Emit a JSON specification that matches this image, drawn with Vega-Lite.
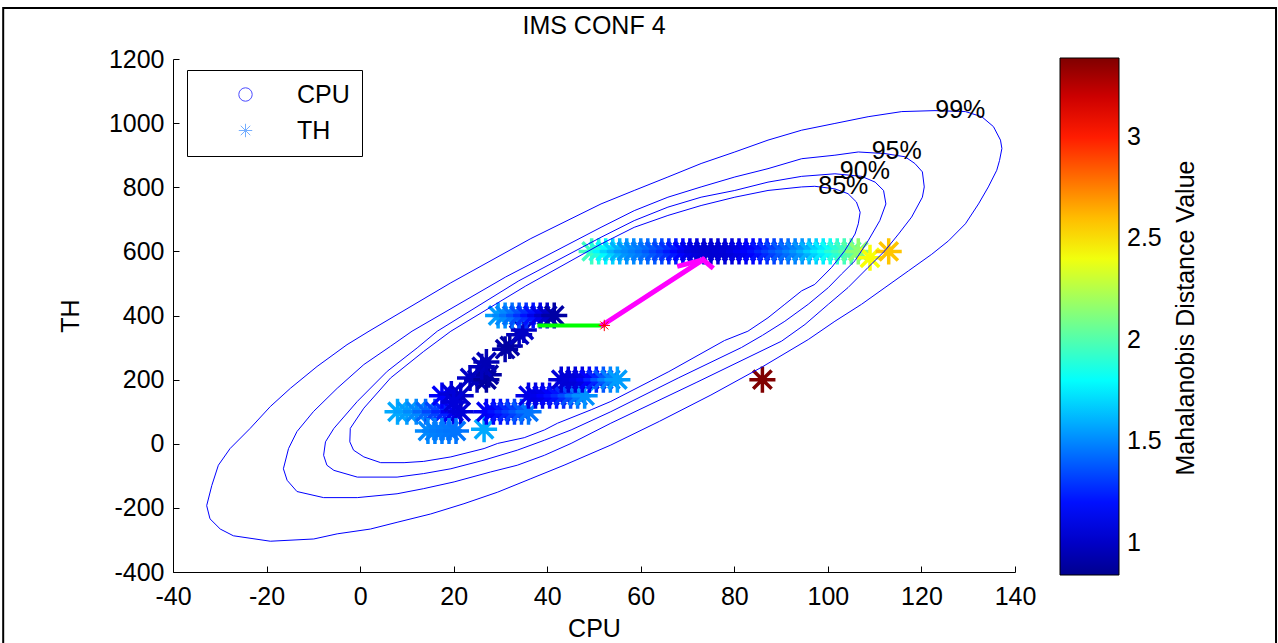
{
"$schema": "https://vega.github.io/schema/vega-lite/v6.json",
"width": 842, "height": 513,
"autosize": {"type": "none"},
"padding": {"left": 173, "top": 59, "right": 263, "bottom": 71},
"background": "white",
"title": {"text": "IMS CONF 4", "fontSize": 25, "font": "Liberation Sans", "fontWeight": "normal", "color": "black", "anchor": "middle", "frame": "group", "offset": -32},
"config": {
  "view": {"stroke": null},
  "axis": {"domainColor": "black", "domainWidth": 1, "tickColor": "black", "tickWidth": 1, "tickSize": -6, "grid": false,
    "labelFont": "Liberation Sans", "labelFontSize": 25, "labelColor": "black", "labelOverlap": false, "labelFlush": false,
    "titleFont": "Liberation Sans", "titleFontSize": 25, "titleFontWeight": "normal", "titleColor": "black"}
},
"datasets": {
  "stars": [
    {"cpu":8,"th":100,"md":1.58},{"cpu":10,"th":100,"md":1.55},{"cpu":12,"th":100,"md":1.5},{"cpu":14,"th":100,"md":1.42},
    {"cpu":16,"th":100,"md":1.33},{"cpu":18,"th":100,"md":1.25},{"cpu":20,"th":100,"md":1.12},{"cpu":21.5,"th":100,"md":1.05},
    {"cpu":14.5,"th":40,"md":1.5},{"cpu":16,"th":40,"md":1.48},{"cpu":17.5,"th":40,"md":1.47},{"cpu":19,"th":40,"md":1.46},{"cpu":20.5,"th":40,"md":1.45},
    {"cpu":26.5,"th":45,"md":1.58},
    {"cpu":17.5,"th":150,"md":1.15},{"cpu":19.5,"th":155,"md":1.05},{"cpu":21.5,"th":150,"md":1.0},{"cpu":20,"th":130,"md":1.05},
    {"cpu":23.5,"th":205,"md":1.0},{"cpu":25,"th":200,"md":0.97},{"cpu":27,"th":200,"md":0.88},{"cpu":27.5,"th":215,"md":0.9},
    {"cpu":26,"th":240,"md":0.97},{"cpu":27,"th":255,"md":0.95},{"cpu":31,"th":295,"md":0.92},{"cpu":32,"th":305,"md":0.9},
    {"cpu":34,"th":340,"md":0.97},{"cpu":35,"th":355,"md":1.0},
    {"cpu":29.5,"th":400,"md":1.55},{"cpu":31,"th":400,"md":1.5},{"cpu":32.5,"th":400,"md":1.44},{"cpu":34,"th":400,"md":1.36},
    {"cpu":35.5,"th":400,"md":1.28},{"cpu":37,"th":400,"md":1.2},{"cpu":38.5,"th":400,"md":1.1},{"cpu":40,"th":400,"md":1.0},{"cpu":41.5,"th":400,"md":0.9},
    {"cpu":27,"th":100,"md":1.12},{"cpu":28.5,"th":100,"md":1.15},{"cpu":30,"th":100,"md":1.2},{"cpu":31.5,"th":100,"md":1.26},
    {"cpu":33,"th":100,"md":1.32},{"cpu":34.5,"th":100,"md":1.38},{"cpu":36,"th":100,"md":1.45},
    {"cpu":36,"th":150,"md":1.1},{"cpu":37.5,"th":150,"md":1.08},{"cpu":39,"th":150,"md":1.1},{"cpu":40.5,"th":150,"md":1.15},
    {"cpu":42,"th":150,"md":1.2},{"cpu":43.5,"th":150,"md":1.27},{"cpu":45,"th":150,"md":1.35},{"cpu":46.5,"th":150,"md":1.45},{"cpu":48,"th":150,"md":1.52},
    {"cpu":43,"th":200,"md":1.05},{"cpu":44.5,"th":200,"md":1.04},{"cpu":46,"th":200,"md":1.05},{"cpu":47.5,"th":200,"md":1.08},
    {"cpu":49,"th":200,"md":1.15},{"cpu":50.5,"th":200,"md":1.25},{"cpu":52,"th":200,"md":1.38},{"cpu":53.5,"th":200,"md":1.48},{"cpu":55,"th":200,"md":1.55},
    {"cpu":49.5,"th":600,"md":1.95},{"cpu":51,"th":600,"md":1.88},{"cpu":52.5,"th":600,"md":1.78},{"cpu":54,"th":600,"md":1.68},
    {"cpu":55.5,"th":600,"md":1.6},{"cpu":57,"th":600,"md":1.53},{"cpu":58.5,"th":600,"md":1.5},{"cpu":60,"th":600,"md":1.47},
    {"cpu":61.5,"th":600,"md":1.43},{"cpu":63,"th":600,"md":1.38},{"cpu":64.5,"th":600,"md":1.33},{"cpu":66,"th":600,"md":1.28},
    {"cpu":67.5,"th":600,"md":1.22},{"cpu":69,"th":600,"md":1.16},{"cpu":70.5,"th":600,"md":1.1},{"cpu":72,"th":600,"md":1.06},
    {"cpu":73.5,"th":600,"md":1.04},{"cpu":75,"th":600,"md":1.03},{"cpu":76.5,"th":600,"md":1.03},{"cpu":78,"th":600,"md":1.04},
    {"cpu":79.5,"th":600,"md":1.05},{"cpu":81,"th":600,"md":1.08},{"cpu":82.5,"th":600,"md":1.12},{"cpu":84,"th":600,"md":1.16},
    {"cpu":85.5,"th":600,"md":1.2},{"cpu":87,"th":600,"md":1.26},{"cpu":88.5,"th":600,"md":1.32},{"cpu":90,"th":600,"md":1.38},
    {"cpu":91.5,"th":600,"md":1.43},{"cpu":93,"th":600,"md":1.48},{"cpu":94.5,"th":600,"md":1.53},{"cpu":96,"th":600,"md":1.6},
    {"cpu":97.5,"th":600,"md":1.68},{"cpu":99,"th":600,"md":1.75},{"cpu":100.5,"th":600,"md":1.82},{"cpu":102,"th":600,"md":1.9},
    {"cpu":103.5,"th":600,"md":1.96},{"cpu":105,"th":600,"md":2.02},{"cpu":106.5,"th":600,"md":2.15},
    {"cpu":109,"th":580,"md":2.42},{"cpu":113,"th":600,"md":2.58},
    {"cpu":86,"th":200,"md":3.39}
  ],
  "contours": [
    {"l":"99","i":1,"cpu":122.9,"th":1039},{"l":"99","i":2,"cpu":115.8,"th":1036},{"l":"99","i":3,"cpu":108.6,"th":1020},{"l":"99","i":4,"cpu":101.5,"th":999},
    {"l":"99","i":5,"cpu":94.4,"th":978},{"l":"99","i":6,"cpu":87.2,"th":947},{"l":"99","i":7,"cpu":80.1,"th":910},{"l":"99","i":8,"cpu":72.9,"th":874},
    {"l":"99","i":9,"cpu":65.8,"th":832},{"l":"99","i":10,"cpu":58.6,"th":790},{"l":"99","i":11,"cpu":51.5,"th":748},{"l":"99","i":12,"cpu":36.5,"th":640},
    {"l":"99","i":13,"cpu":19.4,"th":502},{"l":"99","i":14,"cpu":1.9,"th":351},{"l":"99","i":15,"cpu":-2.8,"th":309},{"l":"99","i":16,"cpu":-9.2,"th":241},
    {"l":"99","i":17,"cpu":-14.9,"th":173},{"l":"99","i":18,"cpu":-19.2,"th":116},{"l":"99","i":19,"cpu":-23.5,"th":48},{"l":"99","i":20,"cpu":-27.8,"th":-15},
    {"l":"99","i":21,"cpu":-30.3,"th":-67},{"l":"99","i":22,"cpu":-31.7,"th":-130},{"l":"99","i":23,"cpu":-32.8,"th":-193},{"l":"99","i":24,"cpu":-32.1,"th":-234},
    {"l":"99","i":25,"cpu":-29.9,"th":-266},{"l":"99","i":26,"cpu":-27.1,"th":-287},{"l":"99","i":27,"cpu":-19.2,"th":-304},{"l":"99","i":28,"cpu":-9.9,"th":-297},
    {"l":"99","i":29,"cpu":-4.9,"th":-281},{"l":"99","i":30,"cpu":2.2,"th":-266},{"l":"99","i":31,"cpu":7.9,"th":-245},{"l":"99","i":32,"cpu":15.1,"th":-219},
    {"l":"99","i":33,"cpu":22.2,"th":-187},{"l":"99","i":34,"cpu":29.4,"th":-151},{"l":"99","i":35,"cpu":36.5,"th":-109},{"l":"99","i":36,"cpu":43.6,"th":-67},
    {"l":"99","i":37,"cpu":53.6,"th":-4},{"l":"99","i":38,"cpu":64,"th":70},{"l":"99","i":39,"cpu":75,"th":152},{"l":"99","i":40,"cpu":86,"th":240},
    {"l":"99","i":41,"cpu":95.8,"th":325},{"l":"99","i":42,"cpu":101.5,"th":382},{"l":"99","i":43,"cpu":107.2,"th":435},{"l":"99","i":44,"cpu":112.2,"th":487},
    {"l":"99","i":45,"cpu":117.2,"th":539},{"l":"99","i":46,"cpu":122.2,"th":591},{"l":"99","i":47,"cpu":125.8,"th":633},{"l":"99","i":48,"cpu":129.4,"th":686},
    {"l":"99","i":49,"cpu":132.2,"th":748},{"l":"99","i":50,"cpu":134.3,"th":801},{"l":"99","i":51,"cpu":136.1,"th":853},{"l":"99","i":52,"cpu":136.7,"th":884},
    {"l":"99","i":53,"cpu":137.2,"th":921},{"l":"99","i":54,"cpu":136.9,"th":947},{"l":"99","i":55,"cpu":135.4,"th":989},{"l":"99","i":56,"cpu":132.9,"th":1020},
    {"l":"99","i":57,"cpu":129.4,"th":1036},{"l":"99","i":58,"cpu":122.9,"th":1039},
    {"l":"95","i":1,"cpu":112.2,"th":905},{"l":"95","i":2,"cpu":106.5,"th":910},{"l":"95","i":3,"cpu":101.5,"th":900},{"l":"95","i":4,"cpu":94.4,"th":889},
    {"l":"95","i":5,"cpu":87.2,"th":858},{"l":"95","i":6,"cpu":80.1,"th":832},{"l":"95","i":7,"cpu":72.9,"th":801},{"l":"95","i":8,"cpu":65.8,"th":769},
    {"l":"95","i":9,"cpu":58.6,"th":727},{"l":"95","i":10,"cpu":51.5,"th":675},{"l":"95","i":11,"cpu":31.1,"th":520},{"l":"95","i":12,"cpu":11.1,"th":351},
    {"l":"95","i":13,"cpu":6.5,"th":304},{"l":"95","i":14,"cpu":0.8,"th":247},{"l":"95","i":15,"cpu":-4.9,"th":173},{"l":"95","i":16,"cpu":-10.0,"th":100},
    {"l":"95","i":17,"cpu":-13.5,"th":38},{"l":"95","i":18,"cpu":-15.3,"th":-15},{"l":"95","i":19,"cpu":-16.4,"th":-78},{"l":"95","i":20,"cpu":-15.6,"th":-114},
    {"l":"95","i":21,"cpu":-13.5,"th":-149},{"l":"95","i":22,"cpu":-7.8,"th":-168},{"l":"95","i":23,"cpu":-0.6,"th":-168},{"l":"95","i":24,"cpu":7.9,"th":-156},
    {"l":"95","i":25,"cpu":13.6,"th":-140},{"l":"95","i":26,"cpu":20.1,"th":-119},{"l":"95","i":27,"cpu":27.9,"th":-88},{"l":"95","i":28,"cpu":33.6,"th":-67},
    {"l":"95","i":29,"cpu":39.4,"th":-36},{"l":"95","i":30,"cpu":45.1,"th":1},{"l":"95","i":31,"cpu":53.6,"th":64},{"l":"95","i":32,"cpu":72,"th":192},
    {"l":"95","i":33,"cpu":90.1,"th":320},{"l":"95","i":34,"cpu":95.1,"th":372},{"l":"95","i":35,"cpu":100.1,"th":435},{"l":"95","i":36,"cpu":104.3,"th":487},
    {"l":"95","i":37,"cpu":108.6,"th":550},{"l":"95","i":38,"cpu":112.2,"th":602},{"l":"95","i":39,"cpu":115.1,"th":654},{"l":"95","i":40,"cpu":117.9,"th":707},
    {"l":"95","i":41,"cpu":120.2,"th":769},{"l":"95","i":42,"cpu":120.6,"th":801},{"l":"95","i":43,"cpu":120.2,"th":848},{"l":"95","i":44,"cpu":118.6,"th":874},
    {"l":"95","i":45,"cpu":116.5,"th":895},{"l":"95","i":46,"cpu":112.2,"th":905},
    {"l":"90","i":1,"cpu":107.2,"th":834},{"l":"90","i":2,"cpu":101.5,"th":842},{"l":"90","i":3,"cpu":94.4,"th":834},{"l":"90","i":4,"cpu":87.2,"th":816},
    {"l":"90","i":5,"cpu":80.1,"th":790},{"l":"90","i":6,"cpu":72.9,"th":769},{"l":"90","i":7,"cpu":65.8,"th":738},{"l":"90","i":8,"cpu":58.6,"th":696},
    {"l":"90","i":9,"cpu":51.5,"th":644},{"l":"90","i":10,"cpu":33.9,"th":508},{"l":"90","i":11,"cpu":16.5,"th":351},{"l":"90","i":12,"cpu":12.2,"th":299},
    {"l":"90","i":13,"cpu":5.8,"th":226},{"l":"90","i":14,"cpu":-0.6,"th":132},{"l":"90","i":15,"cpu":-5.6,"th":48},{"l":"90","i":16,"cpu":-7.4,"th":6},
    {"l":"90","i":17,"cpu":-7.8,"th":-36},{"l":"90","i":18,"cpu":-7.1,"th":-67},{"l":"90","i":19,"cpu":-5.6,"th":-83},{"l":"90","i":20,"cpu":-0.6,"th":-104},
    {"l":"90","i":21,"cpu":7.9,"th":-104},{"l":"90","i":22,"cpu":13.6,"th":-93},{"l":"90","i":23,"cpu":19.4,"th":-78},{"l":"90","i":24,"cpu":26.5,"th":-51},
    {"l":"90","i":25,"cpu":33.6,"th":-20},{"l":"90","i":26,"cpu":39.4,"th":11},{"l":"90","i":27,"cpu":45.1,"th":43},{"l":"90","i":28,"cpu":53.6,"th":100},
    {"l":"90","i":29,"cpu":68,"th":205},{"l":"90","i":30,"cpu":81.5,"th":300},{"l":"90","i":31,"cpu":86,"th":338},{"l":"90","i":32,"cpu":90.8,"th":382},
    {"l":"90","i":33,"cpu":95.8,"th":435},{"l":"90","i":34,"cpu":100.1,"th":487},{"l":"90","i":35,"cpu":102.9,"th":529},{"l":"90","i":36,"cpu":105.8,"th":571},
    {"l":"90","i":37,"cpu":108.6,"th":633},{"l":"90","i":38,"cpu":111.1,"th":696},{"l":"90","i":39,"cpu":112.4,"th":748},{"l":"90","i":40,"cpu":111.9,"th":790},
    {"l":"90","i":41,"cpu":110.1,"th":816},{"l":"90","i":42,"cpu":107.2,"th":834},
    {"l":"85","i":1,"cpu":97.2,"th":803},{"l":"85","i":2,"cpu":94.4,"th":801},{"l":"85","i":3,"cpu":87.2,"th":790},{"l":"85","i":4,"cpu":80.1,"th":769},
    {"l":"85","i":5,"cpu":72.9,"th":743},{"l":"85","i":6,"cpu":65.8,"th":712},{"l":"85","i":7,"cpu":58.6,"th":675},{"l":"85","i":8,"cpu":51.5,"th":623},
    {"l":"85","i":9,"cpu":35.4,"th":492},{"l":"85","i":10,"cpu":19.4,"th":351},{"l":"85","i":11,"cpu":13.6,"th":288},{"l":"85","i":12,"cpu":6.5,"th":205},
    {"l":"85","i":13,"cpu":0.8,"th":111},{"l":"85","i":14,"cpu":-2.1,"th":48},{"l":"85","i":15,"cpu":-2.2,"th":6},{"l":"85","i":16,"cpu":-1.4,"th":-20},
    {"l":"85","i":17,"cpu":0.8,"th":-41},{"l":"85","i":18,"cpu":4.4,"th":-59},{"l":"85","i":19,"cpu":9.4,"th":-59},{"l":"85","i":20,"cpu":13.6,"th":-55},
    {"l":"85","i":21,"cpu":19.4,"th":-41},{"l":"85","i":22,"cpu":26.5,"th":-15},{"l":"85","i":23,"cpu":29.4,"th":1},{"l":"85","i":24,"cpu":35.1,"th":19},
    {"l":"85","i":25,"cpu":39.4,"th":43},{"l":"85","i":26,"cpu":42.2,"th":64},{"l":"85","i":27,"cpu":49.4,"th":106},{"l":"85","i":28,"cpu":53.6,"th":132},
    {"l":"85","i":29,"cpu":66,"th":225},{"l":"85","i":30,"cpu":77.9,"th":322},{"l":"85","i":31,"cpu":82.9,"th":351},{"l":"85","i":32,"cpu":87.2,"th":393},
    {"l":"85","i":33,"cpu":90.8,"th":435},{"l":"85","i":34,"cpu":94.4,"th":477},{"l":"85","i":35,"cpu":97.2,"th":497},{"l":"85","i":36,"cpu":100.8,"th":550},
    {"l":"85","i":37,"cpu":103.6,"th":602},{"l":"85","i":38,"cpu":105.8,"th":654},{"l":"85","i":39,"cpu":106.5,"th":686},{"l":"85","i":40,"cpu":106.9,"th":722},
    {"l":"85","i":41,"cpu":106.1,"th":754},{"l":"85","i":42,"cpu":104.3,"th":780},{"l":"85","i":43,"cpu":101.5,"th":795},{"l":"85","i":44,"cpu":97.2,"th":803}
  ],
  "labels": [
    {"cpu":128.3,"th":1040,"lab":"99%"},{"cpu":114.7,"th":913,"lab":"95%"},{"cpu":107.9,"th":850,"lab":"90%"},{"cpu":103.3,"th":805,"lab":"85%"}
  ],
  "green": [{"cpu":37.9,"th":369,"cpu2":52.2,"th2":369}],
  "arrow": [
    {"cpu":51.9,"th":371,"cpu2":73.3,"th2":574},
    {"cpu":68.3,"th":555,"cpu2":73.3,"th2":574},
    {"cpu":75.1,"th":552,"cpu2":73.3,"th2":574}
  ],
  "origin": [{"cpu":52.2,"th":369}],
  "series": [{"series":"CPU"},{"series":"TH"}]
},
"layer": [
  {"data": {"values": [{}]},
   "mark": {"type": "rect", "filled": false, "stroke": "black", "strokeWidth": 2, "clip": false},
   "encoding": {
     "x": {"datum": -76.3, "type": "quantitative", "scale": {"domain": [-40, 140], "nice": false, "zero": false}},
     "x2": {"datum": 195.8},
     "y": {"datum": 1359, "type": "quantitative", "scale": {"domain": [-400, 1200], "nice": false, "zero": false}},
     "y2": {"datum": -700}}},
  {"data": {"name": "stars"},
   "mark": {"type": "point", "shape": "M0,-1L0,1M-1,0L1,0M-0.707,-0.707L0.707,0.707M-0.707,0.707L0.707,-0.707", "filled": false, "size": 680, "strokeWidth": 3.5, "opacity": 1},
   "encoding": {
     "x": {"field": "cpu", "type": "quantitative",
       "scale": {"domain": [-40, 140], "nice": false, "zero": false},
       "axis": {"title": "CPU", "values": [-40,-20,0,20,40,60,80,100,120,140], "labelExpr": "'' + datum.value", "labelPadding": 18, "titlePadding": 7}},
     "y": {"field": "th", "type": "quantitative",
       "scale": {"domain": [-400, 1200], "nice": false, "zero": false},
       "axis": {"title": "TH", "values": [-400,-200,0,200,400,600,800,1000,1200], "labelExpr": "'' + datum.value", "labelPadding": 15, "titlePadding": 25}},
     "color": {"field": "md", "type": "quantitative",
       "scale": {"domain": [0.84, 1.159, 1.796, 2.434, 3.071, 3.39], "range": ["#00008f", "#0000ff", "#00ffff", "#ffff00", "#ff0000", "#800000"], "interpolate": "rgb"},
       "legend": {"orient": "none", "legendX": 887, "legendY": -1, "direction": "vertical", "padding": 0, "title": null,
         "gradientLength": 517, "gradientThickness": 59, "gradientStrokeColor": "black", "gradientStrokeWidth": 1,
         "values": [1, 1.5, 2, 2.5, 3], "labelExpr": "'' + datum.value", "labelFont": "Liberation Sans", "labelFontSize": 25, "labelColor": "black", "labelOffset": 8, "labelOverlap": false}}
   }},
  {"data": {"name": "contours"},
   "mark": {"type": "line", "color": "#0000ff", "strokeWidth": 1},
   "encoding": {
     "x": {"field": "cpu", "type": "quantitative"},
     "y": {"field": "th", "type": "quantitative"},
     "detail": {"field": "l", "type": "nominal"}, "order": {"field": "i", "type": "quantitative"}}},
  {"data": {"name": "labels"},
   "mark": {"type": "text", "font": "Liberation Sans", "fontSize": 25, "color": "black", "align": "center", "baseline": "middle"},
   "encoding": {
     "x": {"field": "cpu", "type": "quantitative"},
     "y": {"field": "th", "type": "quantitative"},
     "text": {"field": "lab", "type": "nominal"}}},
  {"data": {"name": "green"},
   "mark": {"type": "rule", "color": "#00ff00", "strokeWidth": 4},
   "encoding": {
     "x": {"field": "cpu", "type": "quantitative"},
     "y": {"field": "th", "type": "quantitative"},
     "x2": {"field": "cpu2"}, "y2": {"field": "th2"}}},
  {"data": {"name": "arrow"},
   "mark": {"type": "rule", "color": "#ff00ff", "strokeWidth": 5, "strokeCap": "square"},
   "encoding": {
     "x": {"field": "cpu", "type": "quantitative"},
     "y": {"field": "th", "type": "quantitative"},
     "x2": {"field": "cpu2"}, "y2": {"field": "th2"}}},
  {"data": {"name": "origin"},
   "mark": {"type": "point", "shape": "M0,-1L0,1M-1,0L1,0M-0.707,-0.707L0.707,0.707M-0.707,0.707L0.707,-0.707", "filled": false, "size": 130, "strokeWidth": 1, "color": "#ff0000", "opacity": 1},
   "encoding": {
     "x": {"field": "cpu", "type": "quantitative"},
     "y": {"field": "th", "type": "quantitative"}}},
  {"data": {"values": [{}]},
   "mark": {"type": "text", "text": "Mahalanobis Distance Value", "angle": 270, "font": "Liberation Sans", "fontSize": 25, "color": "black", "align": "center", "baseline": "middle", "clip": false},
   "encoding": {"x": {"datum": 176.5, "type": "quantitative"}, "y": {"datum": 392, "type": "quantitative"}}},
  {"data": {"name": "series"},
   "mark": {"type": "point", "filled": false},
   "encoding": {
     "x": {"field": "cpu", "type": "quantitative"},
     "y": {"field": "th", "type": "quantitative"},
     "shape": {"field": "series", "type": "nominal",
       "scale": {"domain": ["CPU", "TH"], "range": ["circle", "M0,-1L0,1M-1,0L1,0M-0.707,-0.707L0.707,0.707M-0.707,0.707L0.707,-0.707"]},
       "legend": {"orient": "none", "legendX": 14, "legendY": 11, "title": null, "strokeColor": "black", "fillColor": "white", "padding": 12,
         "symbolSize": 180, "symbolStrokeWidth": 1, "symbolOffset": 34, "labelOffset": 39, "rowPadding": 10,
         "labelFont": "Liberation Sans", "labelFontSize": 25, "labelColor": "black"}},
     "stroke": {"field": "series", "type": "nominal",
       "scale": {"domain": ["CPU", "TH"], "range": ["#0000ff", "#3b8cff"]},
       "legend": {"orient": "none", "legendX": 14, "legendY": 11, "title": null, "strokeColor": "black", "fillColor": "white", "padding": 12,
         "symbolSize": 180, "symbolStrokeWidth": 1, "symbolOffset": 34, "labelOffset": 39, "rowPadding": 10,
         "labelFont": "Liberation Sans", "labelFontSize": 25, "labelColor": "black"}}
   }}
]
}
